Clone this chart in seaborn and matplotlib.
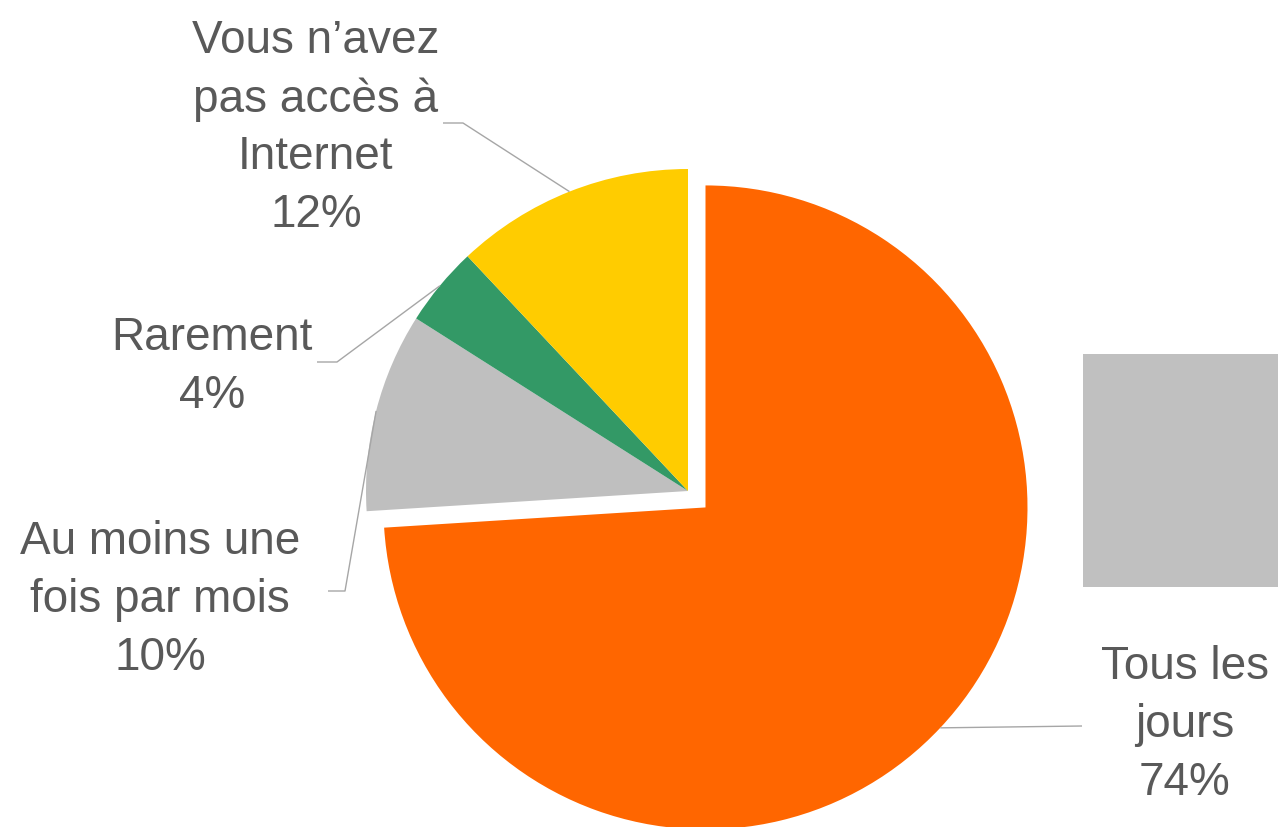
import numpy as np
import matplotlib
matplotlib.use("Agg")
import matplotlib.pyplot as plt
from matplotlib.patches import Rectangle
import seaborn as sns

# ---- data ----
categories = ["Tous les jours", "Au moins une fois par mois", "Rarement",
              "Vous n’avez pas accès à Internet"]
values = [74, 10, 4, 12]
labels = ["Tous les\njours\n74%", "Au moins une\nfois par mois\n10%",
          "Rarement\n4%", "Vous n’avez\npas accès à\nInternet\n12%"]
colors = ["#FF6600", "#BFBFBF", "#339966", "#FFCC00"]

sns.set_theme(style="white")
plt.rcParams["font.family"] = ["Liberation Sans", "DejaVu Sans"]

W, H = 1278, 828
fig = plt.figure(figsize=(W / 100, H / 100), dpi=100)
ax = fig.add_axes([0, 0, 1, 1])

cx, cy, R = 688, H - 492, 322
explode = [24, 0, 0, 0]  # in data (pixel) units
wedges, _ = ax.pie(values, colors=colors, startangle=90, counterclock=False,
                   explode=explode, center=(cx, cy), radius=R,
                   wedgeprops=dict(linewidth=0))

# leader lines + labels (layout positions)
elbows = [(1082, H - 727), (345, H - 592), (337, H - 363), (463, H - 124)]
ends = [(1082, H - 727), (328, H - 592), (317, H - 363), (443, H - 124)]
text_pos = [(1185, H - 725), (160, H - 600), (212, H - 367), (316, H - 128)]

for w, el, en, tp, lab in zip(wedges, elbows, ends, text_pos, labels):
    mid = np.deg2rad((w.theta1 + w.theta2) / 2)
    wx, wy = w.center
    sx, sy = wx + w.r * np.cos(mid), wy + w.r * np.sin(mid)
    ax.plot([sx, el[0], en[0]], [sy, el[1], en[1]], color="#A6A6A6", lw=1.0,
            solid_capstyle="butt")
    ax.text(tp[0], tp[1], lab, ha="center", va="center", multialignment="center",
            fontsize=33, color="#595959", linespacing=1.4)

# grey box on the right (clipped legend area)
ax.add_patch(Rectangle((1083, H - 588), 300, 233, facecolor="#C0C0C0",
                       edgecolor="none"))

ax.set_xlim(0, W)
ax.set_ylim(0, H)
ax.set_aspect("equal")
ax.axis("off")
fig.savefig("out.png", dpi=100, facecolor="white")
